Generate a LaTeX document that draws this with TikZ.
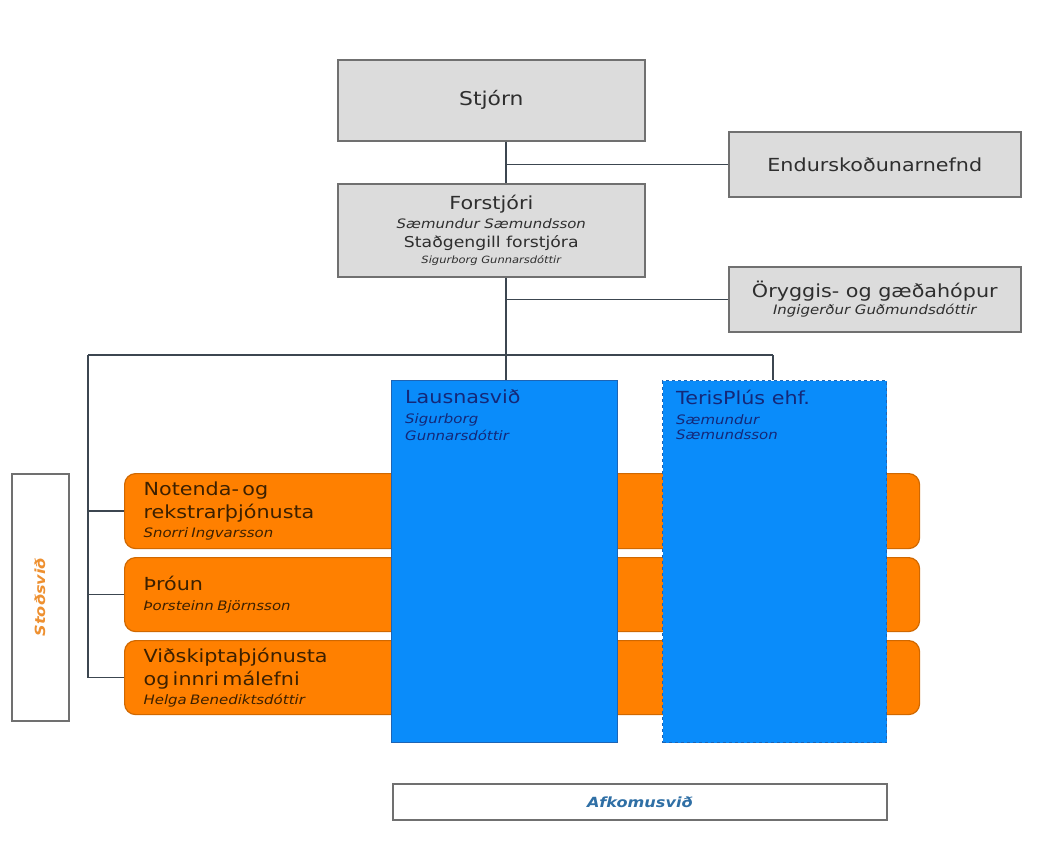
\documentclass[tikz,border=0pt]{standalone}
\usepackage{fontspec}
\setmainfont{DejaVu Sans}[FakeStretch=1.15]
\usetikzlibrary{positioning}

\definecolor{boxgray}{HTML}{DCDCDC}
\definecolor{edgegray}{HTML}{707070}
\definecolor{linegray}{HTML}{3C4650}
\definecolor{darktext}{HTML}{2E2E2E}
\definecolor{svidorange}{HTML}{FF8000}
\definecolor{svidorangeedge}{HTML}{D06800}
\definecolor{stodorange}{HTML}{EE9030}
\definecolor{svidblue}{HTML}{0A8CFA}
\definecolor{svidblueedge}{HTML}{1E64B4}
\definecolor{bluetext}{HTML}{142878}
\definecolor{orangetext}{HTML}{3C2000}
\definecolor{afkomublue}{HTML}{2F6FA5}

\newcommand{\bigtxt}{\fontsize{18}{23}\selectfont}
\newcommand{\midtxt}{\fontsize{15}{19}\selectfont}
\newcommand{\nametxt}{\fontsize{13}{17}\selectfont\itshape}
\newcommand{\smalltxt}{\fontsize{10}{13}\selectfont\itshape}

\tikzset{
  graybox/.style={draw=edgegray, fill=boxgray, line width=1.6pt, anchor=north west, inner sep=0pt, align=center, text=darktext},
  orangebox/.style={draw=svidorangeedge, fill=svidorange, line width=1.2pt, rounded corners=11pt, anchor=north west, inner xsep=19pt, inner ysep=0pt, text width=757pt, minimum height=75pt, align=left, text=orangetext},
  bluebox/.style={draw=svidblueedge, fill=svidblue, line width=1.2pt, anchor=north west, minimum width=226pt, minimum height=362pt},
  bluetext/.style={anchor=north west, align=left, text=bluetext, inner sep=0pt},
  whitebox/.style={draw=edgegray, fill=white, line width=1.6pt, anchor=north west},
  orgline/.style={draw=linegray, line width=1.6pt},
}

\begin{document}
\begin{tikzpicture}[x=1pt, y=-1pt]

\useasboundingbox (0,0) rectangle (1061,854);

% stjorn og nefndir
\node[graybox, minimum width=307pt, minimum height=81pt] (stjorn) at (337,59) {\fontsize{19}{23}\selectfont Stjórn};
\node[graybox, minimum width=292pt, minimum height=65pt] (endur) at (728,131) {\bigtxt Endurskoðunarnefnd};
\node[graybox, minimum width=307pt, minimum height=93pt] (forstjori) at (337,183)
  {\bigtxt Forstjóri\\[4pt] \nametxt Sæmundur Sæmundsson\\[6pt] \midtxt Staðgengill forstjóra\\[4pt] \smalltxt Sigurborg Gunnarsdóttir};
\node[graybox, minimum width=292pt, minimum height=65pt] (oryggi) at (728,266)
  {\bigtxt Öryggis- og gæðahópur\\[2pt] \nametxt Ingigerður Guðmundsdóttir};

\coordinate (spine) at (506,355);
\coordinate (leftbar) at (88,355);
\coordinate (rightbar) at (773,355);

% stodsvid
\node[orangebox] (notenda) at (124,473)
  {\bigtxt Notenda- og\\ rekstrarþjónusta\\[4pt] \nametxt Snorri Ingvarsson};
\node[orangebox, minimum height=74pt] (throun) at (124,557)
  {\bigtxt Þróun\\[8pt] \nametxt Þorsteinn Björnsson};
\node[orangebox, minimum height=74pt] (vidskipti) at (124,640)
  {\bigtxt Viðskiptaþjónusta\\ og innri málefni\\[4pt] \nametxt Helga Benediktsdóttir};

% afkomusvid
\node[bluebox] (lausn) at (391,380) {};
\node[bluetext, below right=10pt and 14pt of lausn.north west] (lausntxt)
  {\bigtxt Lausnasvið\\[8pt] \nametxt Sigurborg\\[3pt] \nametxt Gunnarsdóttir};
\node[bluebox, dashed, minimum width=224pt] (teris) at (662,380) {};
\node[bluetext, below right=10pt and 14pt of teris.north west] (teristxt)
  {\bigtxt TerisPlús ehf.\\[8pt] \nametxt Sæmundur\\[3pt] \nametxt Sæmundsson};

\node[whitebox, minimum width=57pt, minimum height=247pt,
  label={[rotate=90, text=stodorange, font=\fontsize{14}{17}\selectfont\bfseries\itshape]center:Stoðsvið}] (stod) at (11,473) {};
\node[whitebox, minimum width=494pt, minimum height=36pt, text=afkomublue,
  font=\fontsize{14}{17}\selectfont\bfseries\itshape] (afkoma) at (392,783) {Afkomusvið};

\draw[orgline] (stjorn.south -| spine) -- (forstjori.north -| spine);
\draw[orgline] (endur.west) -- (endur.west -| spine);
\draw[orgline] (forstjori.south -| spine) -- (spine);
\draw[orgline] (oryggi.west) -- (oryggi.west -| spine);
\draw[orgline] (leftbar) -- (rightbar);
\draw[orgline] (spine) -- (lausn.north -| spine);
\draw[orgline] (rightbar) -- (teris.north -| rightbar);
\draw[orgline] (leftbar) |- (vidskipti.west);
\draw[orgline] (notenda.west -| leftbar) -- (notenda.west);
\draw[orgline] (throun.west -| leftbar) -- (throun.west);

\end{tikzpicture}
\end{document}
